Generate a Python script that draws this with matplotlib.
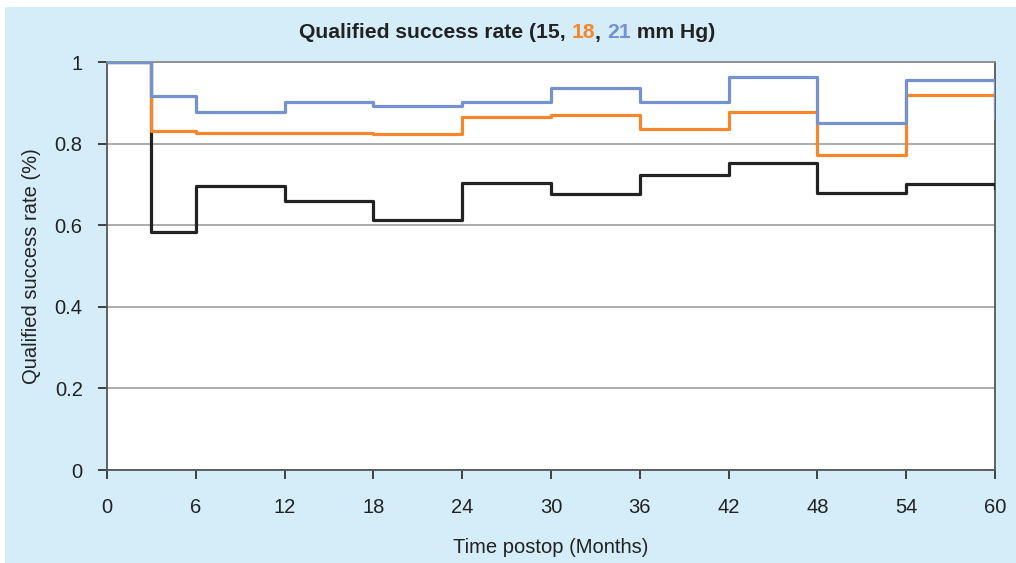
import matplotlib.pyplot as plt
from matplotlib.offsetbox import TextArea, HPacker, AnchoredOffsetbox
from matplotlib.patches import Rectangle

plt.rcParams['font.family'] = ['Liberation Sans', 'DejaVu Sans']

# time points (months), values hold until the next point
months = [0, 3, 6, 12, 18, 24, 30, 36, 42, 48, 54, 60]
rate_15 = [1.0, 0.584, 0.695, 0.659, 0.613, 0.703, 0.677, 0.722, 0.753, 0.680, 0.700, 0.692]
rate_18 = [1.0, 0.832, 0.827, 0.827, 0.823, 0.865, 0.871, 0.836, 0.878, 0.772, 0.919, 0.88]
rate_21 = [1.0, 0.917, 0.877, 0.902, 0.891, 0.901, 0.936, 0.901, 0.964, 0.850, 0.956, 0.862]
xticks = [0, 6, 12, 18, 24, 30, 36, 42, 48, 54, 60]
yticks = [0, 0.2, 0.4, 0.6, 0.8, 1]
yticklabels = ['0', '0.2', '0.4', '0.6', '0.8', '1']

c15 = '#222222'
c18 = '#F5862A'
c21 = '#7392CF'
bg = '#D5ECF9'

fig = plt.figure(figsize=(10.16, 5.63), dpi=100)
fig.patch.set_facecolor('white')
fig.patches.append(Rectangle((5 / 1016, 0), 1 - 5 / 1016, 1 - 7 / 563,
                             transform=fig.transFigure, facecolor=bg,
                             edgecolor='none', zorder=-1))

ax = fig.add_axes([107 / 1016, 1 - 470 / 563, 888 / 1016, 408 / 563])
ax.set_zorder(2)
ax.set_facecolor('white')

ax.step(months, rate_15, where='post', color=c15, lw=2.3, zorder=3)
ax.step(months, rate_18, where='post', color=c18, lw=2.3, zorder=4)
ax.step(months, rate_21, where='post', color=c21, lw=2.3, zorder=5)

ax.set_xlim(0, 60)
ax.set_ylim(0, 1)
ax.set_xticks(xticks)
ax.set_yticks(yticks)
ax.set_yticklabels(yticklabels)
ax.yaxis.grid(True, color='#A6A6A6', lw=1.3)
ax.set_axisbelow(True)
for s in ax.spines.values():
    s.set_color('#555555')
    s.set_linewidth(1.3)
ax.spines['top'].set_color('#8C8C8C')
ax.tick_params(axis='both', direction='out', length=6.5, width=1.3,
               color='#333333', labelsize=14.5, labelcolor='#222222')
ax.tick_params(axis='x', pad=14)
ax.tick_params(axis='y', pad=11)

ax.set_xlabel('Time postop (Months)', fontsize=14.5, color='#222222', labelpad=15)
ax.set_ylabel('Qualified success rate (%)', fontsize=14.5, color='#222222', labelpad=10)

# multi-coloured title
parts = [('Qualified success rate (15, ', '#222222'), ('18', c18), (', ', '#222222'),
         ('21', c21), (' mm Hg)', '#222222')]
boxes = [TextArea(t, textprops=dict(color=c, fontsize=15.2, fontweight='bold'))
         for t, c in parts]
title = HPacker(children=boxes, align='baseline', pad=0, sep=0)
ab = AnchoredOffsetbox(loc='center', child=title, pad=0, frameon=False,
                       bbox_to_anchor=(507 / 1016, 1 - 33 / 563),
                       bbox_transform=fig.transFigure, borderpad=0)
fig.add_artist(ab)

fig.savefig('out.png', dpi=100, facecolor=fig.get_facecolor())
